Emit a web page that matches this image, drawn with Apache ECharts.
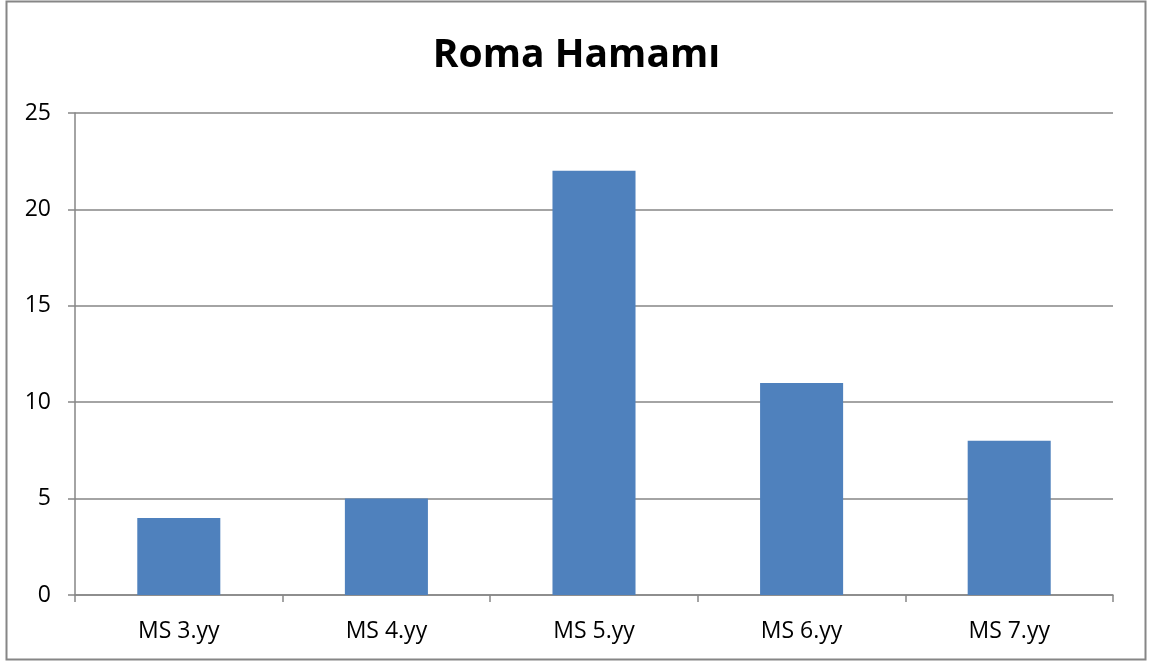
<!DOCTYPE html>
<html>
<head>
<meta charset="utf-8">
<script src="https://cdn.jsdelivr.net/npm/echarts@6/dist/echarts.min.js"></script>
<style>
  html, body { margin: 0; padding: 0; background: #fff; }
  #chart { width: 1153px; height: 664px; }
</style>
</head>
<body>
<div id="chart"></div>
<script>
// chart data
var categories = ['MS 3.yy', 'MS 4.yy', 'MS 5.yy', 'MS 6.yy', 'MS 7.yy'];
var values = [4, 5, 22, 11, 8];
var titleText = 'Roma Hamamı';

var chart = echarts.init(document.getElementById('chart'));
var option = {
  animation: false,
  backgroundColor: '#fff',
  title: {
    text: titleText,
    left: 'center',
    top: 31,
    textStyle: { fontFamily: 'Open Sans', fontWeight: 'bold', fontSize: 39, color: '#000' }
  },
  graphic: [{
    type: 'rect',
    shape: { x: 6.5, y: 1.5, width: 1139, height: 658 },
    style: { fill: 'none', stroke: '#868686', lineWidth: 2 },
    silent: true
  }],
  grid: { left: 75, right: 40, top: 113, bottom: 69 },
  xAxis: {
    type: 'category',
    data: categories,
    axisLine: { lineStyle: { color: '#868686', width: 1.5 } },
    axisTick: { show: true, length: 7, lineStyle: { color: '#868686', width: 1.5 } },
    axisLabel: { color: '#000', fontFamily: 'Open Sans', fontSize: 23, margin: 25 }
  },
  yAxis: {
    type: 'value',
    min: 0,
    max: 25,
    interval: 5,
    axisLine: { show: true, lineStyle: { color: '#868686', width: 1.5 } },
    axisTick: { show: true, length: 7, lineStyle: { color: '#868686', width: 1.5 } },
    splitLine: { lineStyle: { color: '#868686', width: 1.5 } },
    axisLabel: { color: '#000', fontFamily: 'Open Sans', fontSize: 23, margin: 24 }
  },
  series: [{
    type: 'bar',
    data: values,
    barWidth: '40%',
    itemStyle: { color: '#4F81BD' }
  }]
};
chart.setOption(option);
</script>
</body>
</html>
